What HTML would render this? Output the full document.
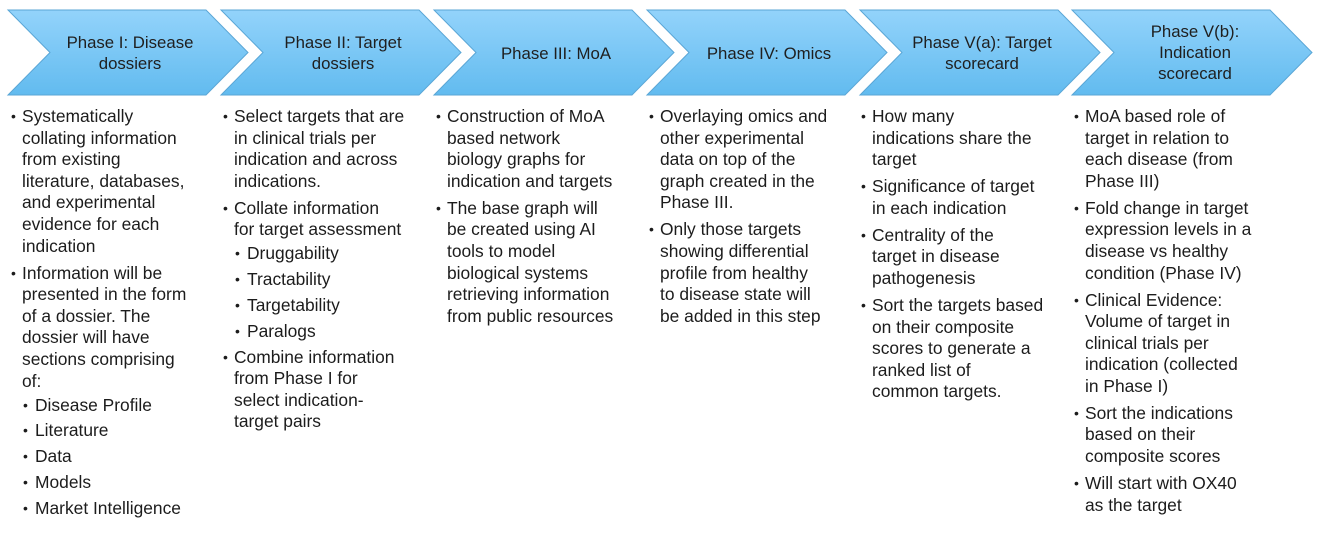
<!DOCTYPE html>
<html><head><meta charset="utf-8">
<style>
html,body{margin:0;padding:0;background:#fff;}
body{width:1317px;height:537px;position:relative;overflow:hidden;font-family:"Liberation Sans",sans-serif;color:#1c1c1c;}
svg{position:absolute;left:0;top:0;}
.title{position:absolute;font-size:16.8px;line-height:21px;text-align:center;color:#1f1f1f;}
.col{position:absolute;top:106px;font-size:17.4px;line-height:21.6px;white-space:nowrap;}
.it{position:relative;padding-left:11px;margin-bottom:5.4px;}
.it::before{content:"•";position:absolute;left:0;top:0;font-size:14px;}
.sub{position:relative;padding-left:24px;margin-bottom:4.2px;}
.sub::before{content:"•";position:absolute;left:12px;top:0;font-size:14px;}
</style></head><body>
<svg width="1317" height="537">
<defs><linearGradient id="g" x1="0" y1="0" x2="0" y2="1">
<stop offset="0" stop-color="#93d3fb"/><stop offset="1" stop-color="#62bbef"/></linearGradient></defs>
<g id="chev"></g>
</svg>
<div class="title" style="left:45px;width:170px;top:32px">Phase I: Disease<br>dossiers</div>
<div class="title" style="left:258px;width:170px;top:32px">Phase II: Target<br>dossiers</div>
<div class="title" style="left:471px;width:170px;top:43px">Phase III: MoA</div>
<div class="title" style="left:684px;width:170px;top:43px">Phase IV: Omics</div>
<div class="title" style="left:892px;width:180px;top:32px">Phase V(a): Target<br>scorecard</div>
<div class="title" style="left:1110px;width:170px;top:21px">Phase V(b):<br>Indication<br>scorecard</div>

<div class="col" style="left:11px">
<div class="it">Systematically<br>collating information<br>from existing<br>literature, databases,<br>and experimental<br>evidence for each<br>indication</div>
<div class="it" style="margin-bottom:2.5px">Information will be<br>presented in the form<br>of a dossier. The<br>dossier will have<br>sections comprising<br>of:</div>
<div class="sub">Disease Profile</div>
<div class="sub">Literature</div>
<div class="sub">Data</div>
<div class="sub">Models</div>
<div class="sub">Market Intelligence</div>
</div>

<div class="col" style="left:223px">
<div class="it">Select targets that are<br>in clinical trials per<br>indication and across<br>indications.</div>
<div class="it" style="margin-bottom:2.5px">Collate information<br>for target assessment</div>
<div class="sub">Druggability</div>
<div class="sub">Tractability</div>
<div class="sub">Targetability</div>
<div class="sub">Paralogs</div>
<div class="it">Combine information<br>from Phase I for<br>select indication-<br>target pairs</div>
</div>

<div class="col" style="left:436px">
<div class="it">Construction of MoA<br>based network<br>biology graphs for<br>indication and targets</div>
<div class="it">The base graph will<br>be created using AI<br>tools to model<br>biological systems<br>retrieving information<br>from public resources</div>
</div>

<div class="col" style="left:649px">
<div class="it">Overlaying omics and<br>other experimental<br>data on top of the<br>graph created in the<br>Phase III.</div>
<div class="it">Only those targets<br>showing differential<br>profile from healthy<br>to disease state will<br>be added in this step</div>
</div>

<div class="col" style="left:861px">
<div class="it">How many<br>indications share the<br>target</div>
<div class="it">Significance of target<br>in each indication</div>
<div class="it">Centrality of the<br>target in disease<br>pathogenesis</div>
<div class="it">Sort the targets based<br>on their composite<br>scores to generate a<br>ranked list of<br>common targets.</div>
</div>

<div class="col" style="left:1074px">
<div class="it">MoA based role of<br>target in relation to<br>each disease (from<br>Phase III)</div>
<div class="it">Fold change in target<br>expression levels in a<br>disease vs healthy<br>condition (Phase IV)</div>
<div class="it">Clinical Evidence:<br>Volume of target in<br>clinical trials per<br>indication (collected<br>in Phase I)</div>
<div class="it">Sort the indications<br>based on their<br>composite scores</div>
<div class="it">Will start with OX40<br>as the target</div>
</div>

<script>
const g=document.getElementById('chev');
const starts=[8,221,434,647,860,1072];
const names=['phase-1','phase-2','phase-3','phase-4','phase-5a','phase-5b'];
starts.forEach((x,i)=>{
 const p=document.createElementNS('http://www.w3.org/2000/svg','polygon');
 const t=10,b=95,m=52.5,d=42,w=240;
 p.setAttribute('points',`${x},${t} ${x+w-d},${t} ${x+w},${m} ${x+w-d},${b} ${x},${b} ${x+d},${m}`);
 p.setAttribute('fill','url(#g)');
 p.setAttribute('stroke','#5aa6d6');
 p.setAttribute('stroke-width','1');
 
 
 g.appendChild(p);
});
</script>
</body></html>
